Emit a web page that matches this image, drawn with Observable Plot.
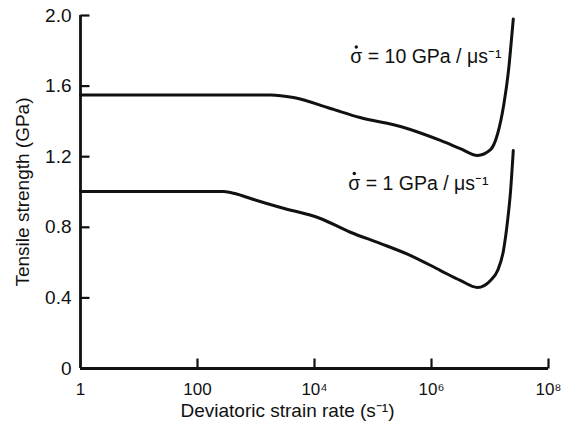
<!DOCTYPE html>
<html>
<head>
<meta charset="utf-8">
<script src="https://cdn.jsdelivr.net/npm/d3@7"></script>
<script src="https://cdn.jsdelivr.net/npm/@observablehq/plot@0.6"></script>
<style>
  html, body { margin: 0; padding: 0; background: #fff; }
  #chart { width: 566px; height: 428px; }
</style>
</head>
<body>
<div id="chart"></div>
<script>
// Strain rate (s^-1) and tensile strength (GPa)
const rateHigh = [1, 1000, 1780, 4370, 18700, 60000, 295000, 1420000, 3100000, 6100000, 10200000, 13500000, 17300000, 20900000, 23500000, 25000000];
const strengthHigh = [1.55, 1.55, 1.55, 1.535, 1.473, 1.422, 1.371, 1.292, 1.246, 1.207, 1.24, 1.33, 1.50, 1.70, 1.88, 1.98];
const rateLow = [1, 280, 450, 810, 2640, 12600, 41000, 135000, 440000, 1430000, 3100000, 6100000, 10200000, 13500000, 17000000, 20000000, 22400000, 25000000];
const strengthLow = [1.003, 1.003, 0.99, 0.963, 0.912, 0.850, 0.772, 0.708, 0.640, 0.555, 0.499, 0.459, 0.499, 0.555, 0.669, 0.839, 1.0, 1.235];
const seriesLabels = ["σ = 10 GPa / μs⁻¹", "σ = 1 GPa / μs⁻¹"];
const xTicks = [1, 100, 1e4, 1e6, 1e8];
const xTickLabels = ["1", "100", "10⁴", "10⁶", "10⁸"];
const yTicks = [0, 0.4, 0.8, 1.2, 1.6, 2.0];
const yTickLabels = ["0", "0.4", "0.8", "1.2", "1.6", "2.0"];

const high = rateHigh.map((x, i) => ({x, y: strengthHigh[i], s: seriesLabels[0]}));
const low = rateLow.map((x, i) => ({x, y: strengthLow[i], s: seriesLabels[1]}));

const font = "'Liberation Sans', Arial, sans-serif";
const ink = "#111";

const frame = {
  width: 566,
  height: 428,
  marginLeft: 80,
  marginRight: 18,
  marginTop: 15,
  marginBottom: 60,
  style: {fontFamily: font, fontSize: "17px", color: ink, background: "#fff"},
  x: {type: "log", domain: [1, 1e8]},
  y: {domain: [0, 2]}
};

// First pass: obtain the scales so the inward tick marks can be sized in pixels
const probe = Plot.plot({...frame, marks: [Plot.ruleY([0])]});
const sx = probe.scale("x"), sy = probe.scale("y");
const xTickTop = sy.invert(sy.apply(0) - 10);
const yTickEnd = sx.invert(sx.apply(1) + 9);
const xTickMarks = xTicks.slice(1).map(t => ({x1: t, x2: t, y1: 0, y2: xTickTop}));
const yTickMarks = yTicks.slice(1).map(t => ({x1: 1, x2: yTickEnd, y1: t, y2: t}));

const chart = Plot.plot({
  ...frame,
  marks: [
    Plot.axisX({ticks: xTicks, tickFormat: d => xTickLabels[xTicks.indexOf(d)], tickSize: 0, tickPadding: 14, label: null, fontSize: 17}),
    Plot.axisY({ticks: yTicks, tickFormat: d => yTickLabels[yTicks.findIndex(t => Math.abs(t - d) < 1e-9)], tickSize: 0, tickPadding: 9, label: "Tensile strength (GPa)", labelAnchor: "center", labelArrow: "none", labelOffset: 65, fontSize: 19}),
    Plot.text(["Deviatoric strain rate (s⁻¹)"], {frameAnchor: "bottom", dx: -27, dy: 48, fontSize: 19, fill: ink}),
    Plot.link(xTickMarks, {x1: "x1", x2: "x2", y1: "y1", y2: "y2", stroke: ink, strokeWidth: 2.2}),
    Plot.link(yTickMarks, {x1: "x1", x2: "x2", y1: "y1", y2: "y2", stroke: ink, strokeWidth: 2.2}),
    Plot.ruleX([1], {stroke: ink, strokeWidth: 2.8}),
    Plot.ruleY([0], {stroke: ink, strokeWidth: 2.8}),
    Plot.line(high, {x: "x", y: "y", curve: "monotone-x", stroke: ink, strokeWidth: 3}),
    Plot.line(low, {x: "x", y: "y", curve: "monotone-x", stroke: ink, strokeWidth: 3}),
    Plot.text(high, Plot.selectLast({x: "x", y: "y", text: "s", textAnchor: "start", dx: -163, dy: 38, fontSize: 19.5, fill: ink})),
    Plot.text(low, Plot.selectLast({x: "x", y: "y", text: "s", textAnchor: "start", dx: -165, dy: 33, fontSize: 19.5, fill: ink})),
    Plot.dot(high, Plot.selectLast({x: "x", y: "y", r: 1.7, fill: ink, dx: -157, dy: 28})),
    Plot.dot(low, Plot.selectLast({x: "x", y: "y", r: 1.7, fill: ink, dx: -159, dy: 23}))
  ]
});
document.getElementById("chart").appendChild(chart);
</script>
</body>
</html>
